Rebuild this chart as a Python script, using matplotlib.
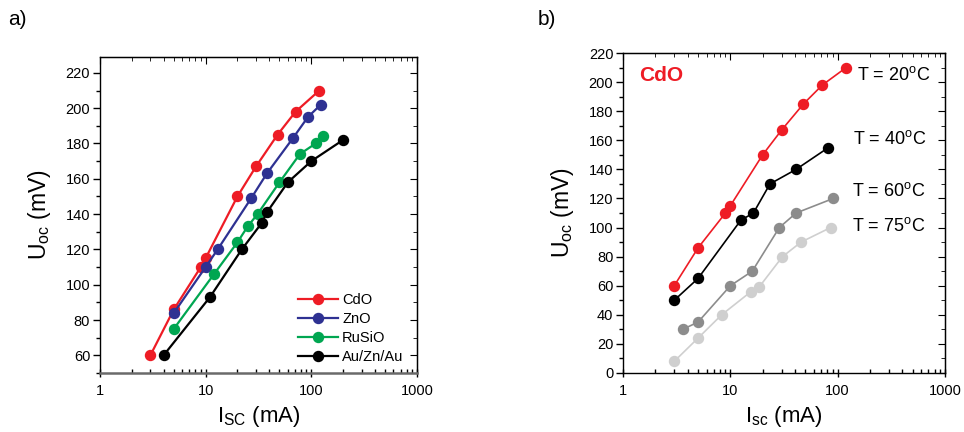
import matplotlib
matplotlib.use("Agg")
import matplotlib.pyplot as plt
from matplotlib.ticker import FixedLocator, FuncFormatter, MultipleLocator, LogLocator, NullFormatter

plt.rcParams['font.family'] = ['Liberation Sans', 'DejaVu Sans']
plt.rcParams['mathtext.fontset'] = 'custom'
plt.rcParams['mathtext.rm'] = 'Liberation Sans'
plt.rcParams['mathtext.it'] = 'Liberation Sans'

# ---- panel a) data ----
cdo_i = [3, 5, 9, 10, 20, 30, 48, 71, 119]
cdo_u = [60, 86, 110, 115, 150, 167, 185, 198, 210]
zno_i = [5, 10, 13, 27, 38, 67, 93, 123]
zno_u = [84, 110, 120, 149, 163, 183, 195, 202]
rusio_i = [5, 12, 20, 25, 31, 50, 78, 110, 130]
rusio_u = [75, 106, 124, 133, 140, 158, 174, 180, 184]
auzn_i = [4, 11, 22, 34, 38, 60, 100, 200]
auzn_u = [60, 93, 120, 135, 141, 158, 170, 182]
series_a_names = ['CdO', 'ZnO', 'RuSiO', 'Au/Zn/Au']
series_a_colors = ['#ee1c25', '#2e3192', '#00a651', '#000000']

# ---- panel b) data (CdO at different temperatures) ----
t20_i = [3, 5, 9, 10, 20, 30, 48, 72, 120]
t20_u = [60, 86, 110, 115, 150, 167, 185, 198, 210]
t40_i = [3, 5, 12.5, 16.4, 23.4, 41, 82]
t40_u = [50, 65, 105, 110, 130, 140, 155]
t60_i = [3.6, 5, 10, 16, 28.6, 41, 91]
t60_u = [30, 35, 60, 70, 100, 110, 120]
t75_i = [3, 5, 8.3, 15.6, 18.5, 30.6, 45.6, 86]
t75_u = [8, 24, 40, 56, 59, 80, 90, 100]
temp_labels = ['T = 20', 'T = 40', 'T = 60', 'T = 75']
temp_colors = ['#ee1c25', '#000000', '#8c8c8c', '#cfcfcf']

xticks = [1, 10, 100, 1000]

fig = plt.figure(figsize=(9.64, 4.32), dpi=100)
axA = fig.add_axes([0.1037, 0.1366, 0.3288, 0.7315])
axB = fig.add_axes([0.6463, 0.1366, 0.3340, 0.7407])

fmt = FuncFormatter(lambda v, p: f"{v:g}")


def style(ax, ylim, ymajor, yminor):
    ax.set_xscale('log')
    ax.set_xlim(1, 1000)
    ax.set_ylim(*ylim)
    ax.xaxis.set_major_locator(FixedLocator(xticks))
    ax.xaxis.set_major_formatter(fmt)
    ax.xaxis.set_minor_locator(LogLocator(base=10, subs=range(2, 10)))
    ax.xaxis.set_minor_formatter(NullFormatter())
    ax.yaxis.set_major_locator(MultipleLocator(ymajor))
    ax.yaxis.set_minor_locator(MultipleLocator(yminor))
    ax.tick_params(axis='y', which='major', direction='out', length=5, width=1, labelsize=10.5, pad=2)
    ax.tick_params(axis='y', which='minor', direction='out', length=3, width=1)
    ax.tick_params(axis='x', which='major', direction='inout', length=6, width=1, labelsize=10.5, pad=5)
    ax.tick_params(axis='x', which='minor', direction='in', length=3, width=1)
    for s in ax.spines.values():
        s.set_linewidth(1.0)
    # right / top inward ticks
    sy = ax.secondary_yaxis('right')
    sy.yaxis.set_major_locator(MultipleLocator(ymajor))
    sy.yaxis.set_minor_locator(MultipleLocator(yminor))
    sy.tick_params(axis='y', which='major', direction='in', length=5, labelright=False)
    sy.tick_params(axis='y', which='minor', direction='in', length=3)
    sx = ax.secondary_xaxis('top')
    sx.xaxis.set_major_locator(FixedLocator(xticks))
    sx.xaxis.set_minor_locator(LogLocator(base=10, subs=range(2, 10)))
    sx.xaxis.set_minor_formatter(NullFormatter())
    sx.tick_params(axis='x', which='major', direction='in', length=5, labeltop=False)
    sx.tick_params(axis='x', which='minor', direction='in', length=3)


# panel a
style(axA, (50, 229), 20, 10)
for xs, ys, name, col in zip([cdo_i, zno_i, rusio_i, auzn_i],
                             [cdo_u, zno_u, rusio_u, auzn_u],
                             series_a_names, series_a_colors):
    axA.plot(xs, ys, '-o', color=col, lw=1.6, ms=7.2, label=name)
axA.spines['bottom'].set_linewidth(1.8)
axA.spines['bottom'].set_color('#6a6a6a')
leg = axA.legend(loc='lower right', frameon=False, fontsize=10.5, handlelength=2.7,
                 handletextpad=0.3, labelspacing=0.35, borderaxespad=0.2,
                 bbox_to_anchor=(0.985, 0.0))
axA.set_xlabel(r'I$_{\mathregular{SC}}$ (mA)', fontsize=16, labelpad=4)
axA.set_ylabel(r'U$_{\mathregular{oc}}$ (mV)', fontsize=16.5, labelpad=9)

# panel b
style(axB, (0, 220), 20, 10)
for xs, ys, col in zip([t20_i, t40_i, t60_i, t75_i],
                       [t20_u, t40_u, t60_u, t75_u], temp_colors):
    axB.plot(xs, ys, '-o', color=col, lw=1.2, ms=7.2)
ty = [0.93, 0.73, 0.57, 0.46]
tx = [0.728, 0.715, 0.711, 0.711]
for lab, x, y in zip(temp_labels, tx, ty):
    axB.text(x, y, lab + r'$^{\mathregular{o}}$C', transform=axB.transAxes,
             fontsize=13, va='center', ha='left')
axB.text(0.05, 0.93, 'CdO', transform=axB.transAxes, color='#ee1c25',
         fontsize=15, fontweight='bold', va='center', ha='left')
axB.set_xlabel(r'I$_{\mathregular{sc}}$ (mA)', fontsize=16, labelpad=4)
axB.set_ylabel(r'U$_{\mathregular{oc}}$ (mV)', fontsize=16.5, labelpad=9)

fig.text(0.008, 0.955, 'a)', fontsize=15, va='center', ha='left')
fig.text(0.558, 0.955, 'b)', fontsize=15, va='center', ha='left')

fig.savefig('out.png', dpi=100)
